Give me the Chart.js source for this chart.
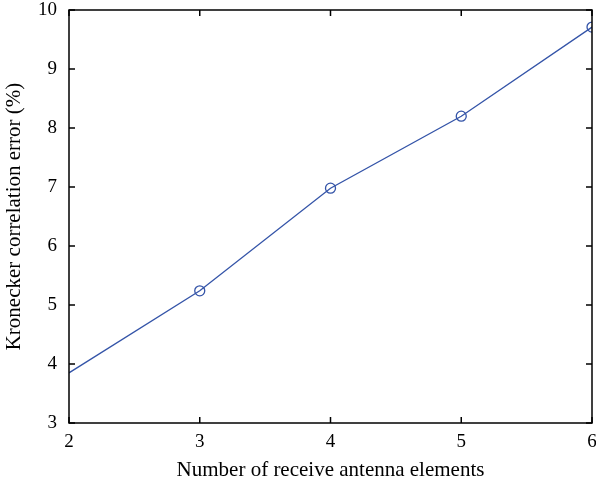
<!DOCTYPE html>
<html>
<head>
<meta charset="utf-8">
<script src="https://cdn.jsdelivr.net/npm/chart.js@4.4.0/dist/chart.umd.min.js"></script>
<style>
  html, body { margin: 0; padding: 0; background: #fff; }
  #wrap { width: 596px; height: 486px; }
</style>
</head>
<body>
<div id="wrap"><canvas id="myChart" width="596" height="486"></canvas></div>
<script>
// data
const antennas = [2, 3, 4, 5, 6];
const errorPct = [3.85, 5.24, 6.98, 8.2, 9.71];
const xTicks = [2, 3, 4, 5, 6];
const yTicks = [3, 4, 5, 6, 7, 8, 9, 10];
const markerSizes = [0, 5, 5, 5, 5];

const lineColor = '#3454a8';
const tickFont = { family: 'Liberation Serif', size: 19 };
const titleFont = { family: 'Liberation Serif', size: 21 };

// the plot runs right up to the edge, so stretch the x axis after layout
const stretchRight = {
  id: 'stretchRight',
  afterLayout(chart) {
    const right = chart.width - 4;
    const x = chart.scales.x;
    chart.chartArea.right = right;
    chart.chartArea.width = right - chart.chartArea.left;
    x.right = right;
    x.width = right - x.left;
    x.configure();
  }
};

// box round the plot and inward ticks on all four sides
const frame = {
  id: 'frame',
  afterDraw(chart) {
    const { ctx, chartArea: a, scales } = chart;
    ctx.save();
    ctx.strokeStyle = '#000';
    ctx.lineWidth = 1.5;
    ctx.strokeRect(a.left, a.top, a.right - a.left, a.bottom - a.top);
    ctx.beginPath();
    const len = 6;
    xTicks.forEach(v => {
      const x = scales.x.getPixelForValue(v);
      ctx.moveTo(x, a.bottom); ctx.lineTo(x, a.bottom - len);
      ctx.moveTo(x, a.top); ctx.lineTo(x, a.top + len);
    });
    yTicks.forEach(v => {
      const y = scales.y.getPixelForValue(v);
      ctx.moveTo(a.left, y); ctx.lineTo(a.left + len, y);
      ctx.moveTo(a.right, y); ctx.lineTo(a.right - len, y);
    });
    ctx.stroke();
    ctx.restore();
  }
};

new Chart(document.getElementById('myChart').getContext('2d'), {
  type: 'line',
  data: {
    datasets: [{
      data: antennas.map((x, i) => ({ x: x, y: errorPct[i] })),
      borderColor: lineColor,
      borderWidth: 1.3,
      backgroundColor: 'transparent',
      pointRadius: markerSizes,
      pointBorderColor: lineColor,
      pointBorderWidth: 1.3,
      pointBackgroundColor: 'transparent',
      tension: 0
    }]
  },
  options: {
    responsive: false,
    animation: false,
    layout: { padding: { top: 10, right: 0, left: 0, bottom: 0 } },
    plugins: { legend: { display: false }, tooltip: { enabled: false } },
    scales: {
      x: {
        type: 'linear',
        min: 2, max: 6,
        afterBuildTicks: s => { s.ticks = xTicks.map(v => ({ value: v })); },
        afterFit: s => { s.height = 63; },
        grid: { display: false },
        border: { display: false },
        ticks: { color: '#000', font: tickFont, padding: 0, maxRotation: 0 },
        title: { display: true, text: 'Number of receive antenna elements', color: '#000', font: titleFont, padding: { top: 4, bottom: 3 } }
      },
      y: {
        min: 3, max: 10,
        afterBuildTicks: s => { s.ticks = yTicks.map(v => ({ value: v })); },
        afterFit: s => { s.width = 69; s.paddingTop = 0; s.paddingBottom = 0; },
        grid: { display: false },
        border: { display: false },
        ticks: { color: '#000', font: tickFont, padding: 4 },
        title: { display: true, text: 'Kronecker correlation error (%)', color: '#000', font: titleFont, padding: { top: 2, bottom: 2 } }
      }
    }
  },
  plugins: [stretchRight, frame]
});
</script>
</body>
</html>
